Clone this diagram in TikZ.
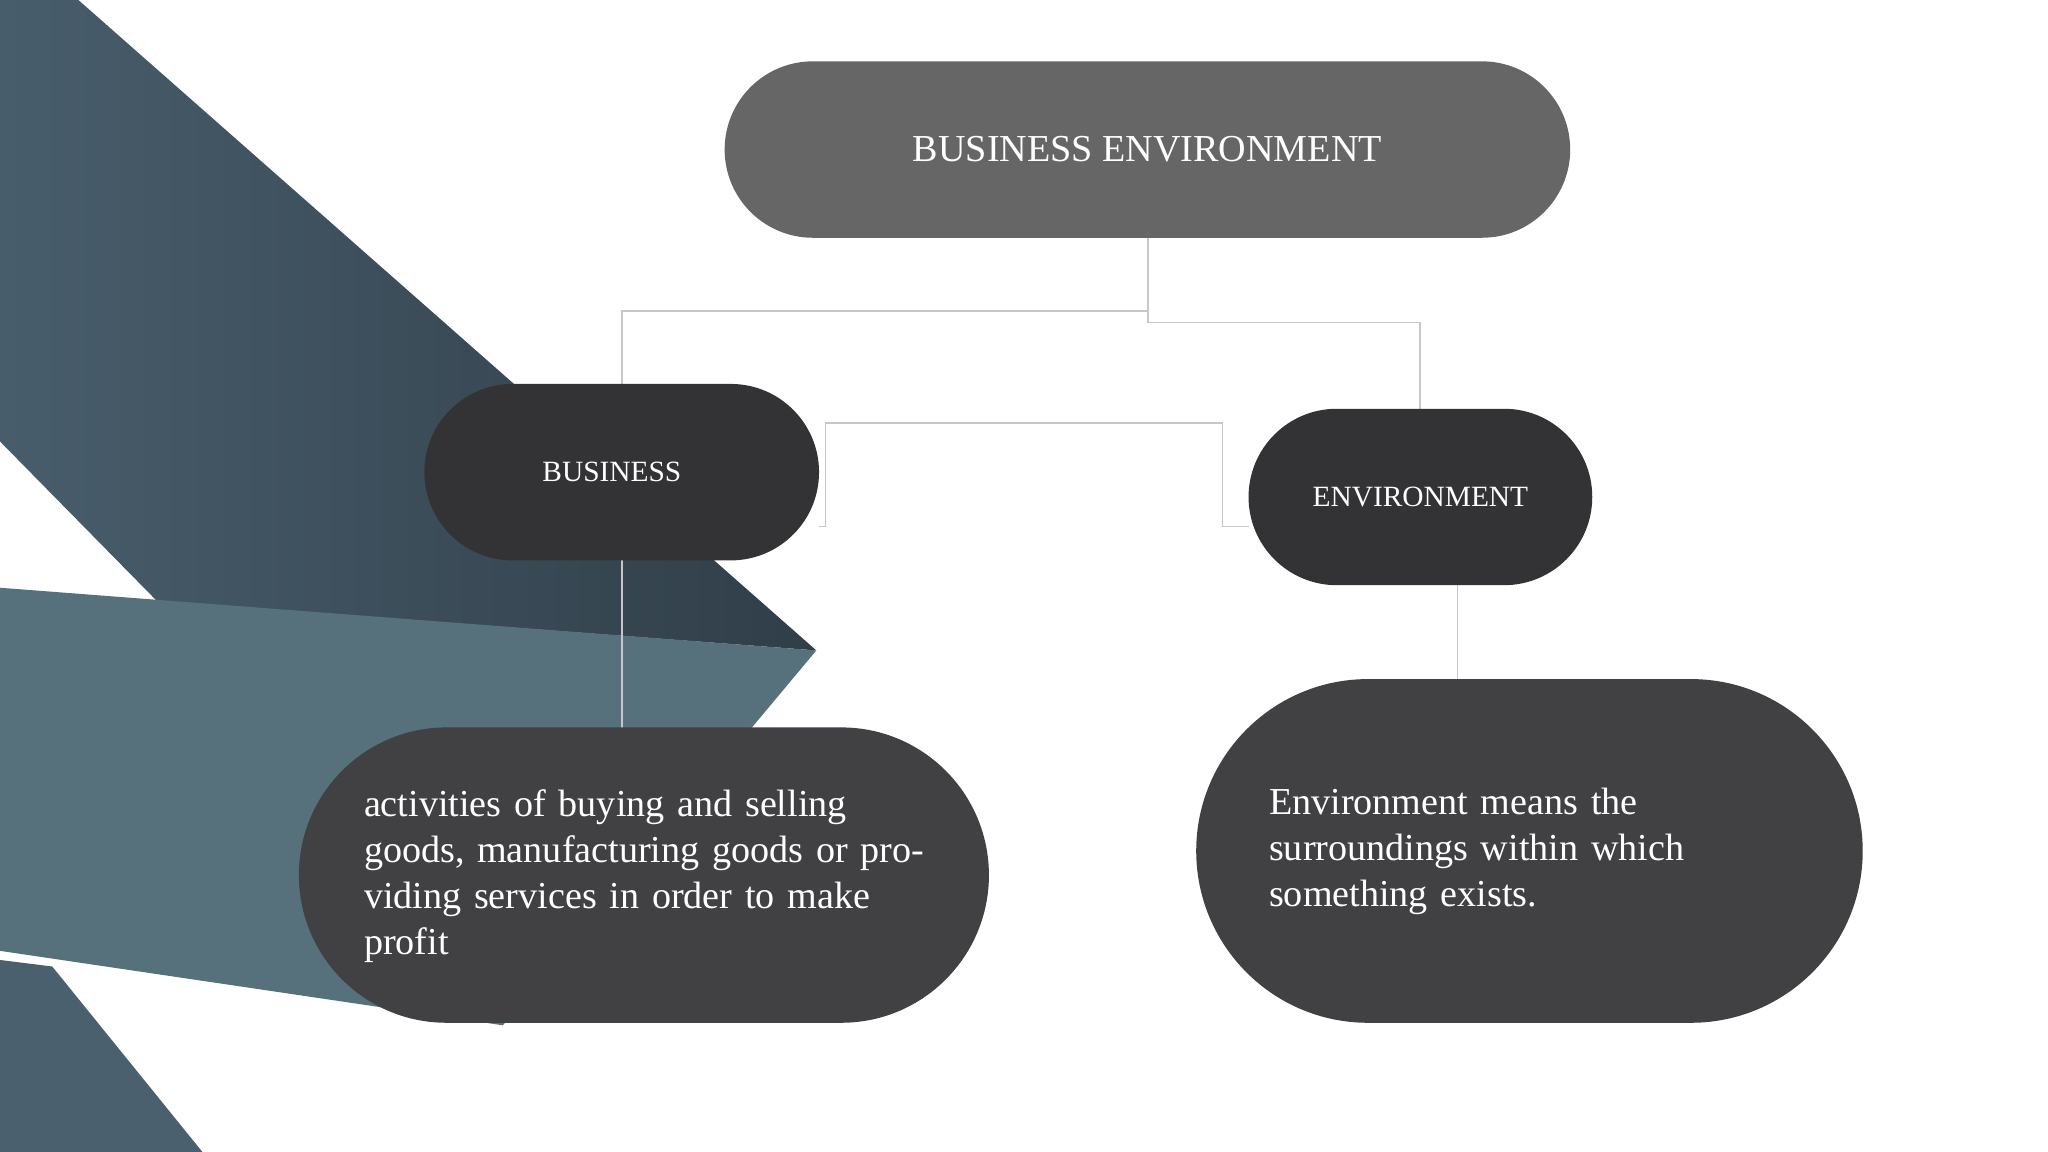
\documentclass[tikz,border=0pt]{standalone}
\usepackage{fontspec}
\setmainfont{Liberation Serif}
\definecolor{bandA}{RGB}{72,93,108}
\definecolor{bandB}{RGB}{48,62,72}
\definecolor{bandC}{RGB}{86,112,124}
\definecolor{bandD}{RGB}{74,96,110}
\definecolor{topc}{RGB}{102,102,102}
\definecolor{midc}{RGB}{51,51,54}
\definecolor{botc}{RGB}{65,64,66}
\begin{document}
\begin{tikzpicture}[x=0.01cm,y=-0.01cm,
  pill/.style={draw=none,text=white,inner sep=0pt,align=center},
  conn/.style={draw=black!22,line width=0.35pt}]
\useasboundingbox (0,0) rectangle (1568,882);
\fill[white] (0,0) rectangle (1568,882);
% background bands
\shade[left color=bandA,right color=bandB]
  (0,0) -- (60,0) -- (625,498) -- (120,460) -- (0,338) -- cycle;
\fill[bandC] (0,450) -- (625,498) -- (385,785) -- (0,728) -- cycle;
\fill[bandD] (0,735) -- (40,740) -- (155,882) -- (0,882) -- cycle;
% connectors
\coordinate (t1) at (879,238); \coordinate (t2) at (476,238);
\coordinate (t3) at (879,247); \coordinate (t4) at (1087,247);
\draw[conn] (879,182) -- (t1) -- (t2) -- (476,294);
\draw[conn] (879,182) -- (t3) -- (t4) -- (1087,313);
\draw[conn] (627,403) -- (632,403) -- (632,324) -- (936,324) -- (936,403) -- (956,403);
\draw[conn] (476,429) -- (476,557);
\draw[conn] (1116,448) -- (1116,520);
% nodes
\node[pill,fill=topc,minimum width=6.47cm,minimum height=1.35cm,rounded corners=0.675cm,font=\fontsize{8.3}{10}\selectfont] (top) at (878.5,114.5) {BUSINESS ENVIRONMENT};
\node[pill,fill=midc,minimum width=3.02cm,minimum height=1.35cm,rounded corners=0.675cm,font=\fontsize{6.4}{8}\selectfont] (bus) at (476,361.5) {\hspace*{-0.15cm}BUSINESS};
\node[pill,fill=midc,minimum width=2.63cm,minimum height=1.35cm,rounded corners=0.675cm,font=\fontsize{6.4}{8}\selectfont] (env) at (1087.5,380.5) {ENVIRONMENT};
\node[pill,fill=botc,minimum width=5.28cm,minimum height=2.26cm,rounded corners=1.13cm] (bl) at (493,670) {};
\node[text=white,align=left,anchor=north west,inner sep=0pt,text width=4.4cm,font=\fontsize{8.3}{10}\selectfont] (blt) at (278,604) {activities of buying and selling goods, manufacturing goods or providing services in order to make profit};
\node[pill,fill=botc,minimum width=5.10cm,minimum height=2.63cm,rounded corners=1.315cm] (br) at (1171,651.5) {};
\node[text=white,align=left,anchor=north west,inner sep=0pt,text width=3.4cm,font=\fontsize{8.3}{10}\selectfont] (brt) at (971,603) {Environment means the surroundings within which something exists.};
\end{tikzpicture}
\end{document}
